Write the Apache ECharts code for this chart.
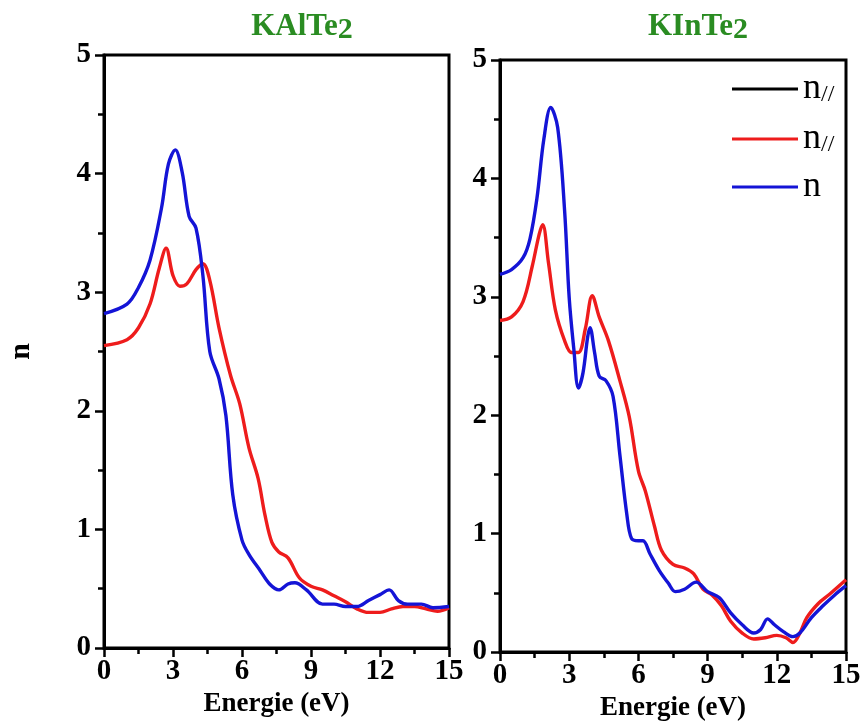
<!DOCTYPE html>
<html>
<head>
<meta charset="utf-8">
<style>html,body{margin:0;padding:0;background:#fff;}#chart{width:860px;height:722px;}</style>
<script src="https://cdn.jsdelivr.net/npm/echarts@6/dist/echarts.min.js"></script>
</head>
<body>
<div id="chart"></div>
<script>
// ---- Data ----
const titles = ['KAlTe', 'KInTe'];
const xTicks = [0, 3, 6, 9, 12, 15];
const yTicks = [0, 1, 2, 3, 4, 5];

// KAlTe2, blue "n"
const kal_n_x = [0,1,1.5,2,2.5,2.8,3.1,3.4,3.7,4.0,4.3,4.6,5.0,5.3,5.6,6.0,6.3,6.8,7.2,7.6,8.0,8.3,8.8,9.5,10,10.5,11,11.5,12,12.4,12.8,13.2,13.8,14.3,15];
const kal_n_y = [2.82,2.90,3.04,3.27,3.71,4.08,4.20,4.01,3.64,3.54,3.14,2.50,2.27,1.96,1.29,0.91,0.79,0.65,0.54,0.49,0.54,0.55,0.49,0.37,0.37,0.35,0.35,0.40,0.45,0.49,0.40,0.37,0.37,0.34,0.35];
// KAlTe2, red "n//"
const kal_p_x = [0,1,1.5,2,2.4,2.7,3.0,3.3,3.6,4.0,4.3,4.6,5.0,5.5,5.9,6.3,6.7,7.0,7.3,7.6,8.0,8.5,9,9.5,10,10.5,11,11.5,12,12.5,13,13.5,14,14.5,15];
const kal_p_y = [2.55,2.60,2.70,2.90,3.20,3.37,3.14,3.05,3.07,3.19,3.24,3.10,2.70,2.30,2.06,1.69,1.43,1.12,0.89,0.81,0.76,0.59,0.52,0.49,0.44,0.39,0.33,0.30,0.30,0.33,0.35,0.35,0.33,0.31,0.34];
// KInTe2, blue "n"
const kin_n_x = [0,0.5,1,1.3,1.6,1.9,2.2,2.5,2.8,3.0,3.2,3.4,3.6,3.8,3.9,4.1,4.3,4.6,4.9,5.2,5.5,5.7,6.0,6.2,6.5,6.9,7.3,7.6,8.0,8.5,9,9.5,10,10.5,11,11.3,11.6,11.9,12.3,12.7,13.0,13.5,14,14.5,15];
const kin_n_y = [3.19,3.23,3.33,3.49,3.83,4.33,4.60,4.43,3.73,2.99,2.56,2.23,2.36,2.66,2.74,2.53,2.33,2.29,2.16,1.66,1.16,0.96,0.94,0.94,0.83,0.69,0.58,0.51,0.53,0.59,0.51,0.46,0.33,0.23,0.16,0.19,0.28,0.23,0.17,0.13,0.16,0.29,0.39,0.48,0.56];
// KInTe2, red "n//"
const kin_p_x = [0,0.5,1,1.4,1.7,1.85,2.1,2.4,2.8,3.1,3.4,3.7,4.0,4.3,4.7,5.2,5.6,6.0,6.3,6.7,7.0,7.5,8.0,8.4,8.8,9.2,9.6,10,10.5,11,11.5,12,12.4,12.7,13.0,13.3,13.8,14.3,15];
const kin_p_y = [2.80,2.83,2.96,3.26,3.53,3.61,3.29,2.89,2.63,2.53,2.53,2.73,3.01,2.83,2.63,2.29,1.99,1.53,1.36,1.06,0.86,0.74,0.71,0.66,0.53,0.48,0.39,0.26,0.16,0.11,0.12,0.14,0.12,0.08,0.16,0.29,0.41,0.49,0.61];

const zip = (xs, ys) => xs.map((x, i) => [x, ys[i]]);

const FONT = '"Liberation Serif", "Times New Roman", serif';
const RED = '#ee1c1c';
const BLUE = '#1414d6';
const GREEN = '#2a8c22';

function xAxis(idx) {
  return {
    type: 'value', gridIndex: idx, min: 0, max: 15, interval: 3,
    name: 'Energie (eV)', nameLocation: 'middle', nameGap: 40,
    nameTextStyle: { fontFamily: FONT, fontWeight: 'bold', fontSize: 27, color: '#000' },
    axisLine: { show: true, onZero: false, lineStyle: { color: '#000', width: 3 } },
    axisTick: { show: true, length: 9, lineStyle: { color: '#000', width: 2.5 } },
    minorTick: { show: true, splitNumber: 2, length: 6, lineStyle: { color: '#000', width: 2.5 } },
    splitLine: { show: false },
    axisLabel: { fontFamily: FONT, fontWeight: 'bold', fontSize: 29, color: '#000', margin: 9,
      formatter: v => xTicks.includes(v) ? String(v) : '' }
  };
}
function yAxis(idx, withName) {
  return {
    type: 'value', gridIndex: idx, min: 0, max: 5, interval: 1,
    name: withName ? 'n' : '', nameLocation: 'middle', nameGap: 68,
    nameTextStyle: { fontFamily: FONT, fontWeight: 'bold', fontSize: 30, color: '#000' },
    axisLine: { show: true, onZero: false, lineStyle: { color: '#000', width: 3 } },
    axisTick: { show: true, length: 9, lineStyle: { color: '#000', width: 2.5 } },
    minorTick: { show: true, splitNumber: 2, length: 6, lineStyle: { color: '#000', width: 2.5 } },
    splitLine: { show: false },
    axisLabel: { fontFamily: FONT, fontWeight: 'bold', fontSize: 29, color: '#000', margin: 13,
      formatter: v => yTicks.includes(v) ? String(v) : '' }
  };
}
function titleOpt(text, left) {
  return {
    text: '{a|' + text + '}{b|2}', left: left, top: 6, textAlign: 'center',
    textStyle: {
      rich: {
        a: { fontFamily: FONT, fontWeight: 'bold', fontSize: 31, color: GREEN, lineHeight: 34, verticalAlign: 'top' },
        b: { fontFamily: FONT, fontWeight: 'bold', fontSize: 30, color: GREEN, lineHeight: 34, verticalAlign: 'bottom', padding: [12, 0, 0, 0] }
      }
    }
  };
}
function line(name, data, color, xi, z) {
  return {
    type: 'line', name: name, xAxisIndex: xi, yAxisIndex: xi, data: data,
    smooth: 0.35, showSymbol: false, symbol: 'none', z: z,
    lineStyle: { color: color, width: 3.4 }, itemStyle: { color: color }
  };
}

const chart = echarts.init(document.getElementById('chart'));
chart.setOption({
  backgroundColor: '#fff',
  animation: false,
  title: [titleOpt(titles[0], 297), titleOpt(titles[1], 693)],
  grid: [
    { left: 104, top: 55, width: 345, height: 593, show: true, borderColor: '#000', borderWidth: 3, containLabel: false, outerBoundsMode: 'none' },
    { left: 500, top: 60, width: 346, height: 592, show: true, borderColor: '#000', borderWidth: 3, containLabel: false, outerBoundsMode: 'none' }
  ],
  xAxis: [xAxis(0), xAxis(1)],
  yAxis: [yAxis(0, true), yAxis(1, false)],
  legend: {
    orient: 'vertical', left: 727, top: 64, itemGap: 12,
    icon: 'rect', itemWidth: 66, itemHeight: 3,
    data: ['n_perp', 'n_par', 'n'],
    formatter: name => name === 'n' ? '{m|n}' : '{m|n}{s|//}',
    textStyle: {
      fontFamily: FONT, color: '#000', fontSize: 34,
      rich: {
        m: { fontFamily: FONT, fontSize: 36, color: '#000', lineHeight: 36, verticalAlign: 'top' },
        s: { fontFamily: FONT, fontSize: 24, color: '#000', lineHeight: 36, verticalAlign: 'bottom', padding: [14, 0, 0, 0] }
      }
    }
  },
  series: [
    line('n_perp', [], '#000', 1, 1),
    line('n_par', zip(kal_p_x, kal_p_y), RED, 0, 2),
    line('n', zip(kal_n_x, kal_n_y), BLUE, 0, 3),
    line('n_par', zip(kin_p_x, kin_p_y), RED, 1, 2),
    line('n', zip(kin_n_x, kin_n_y), BLUE, 1, 3)
  ]
});
</script>
</body>
</html>
